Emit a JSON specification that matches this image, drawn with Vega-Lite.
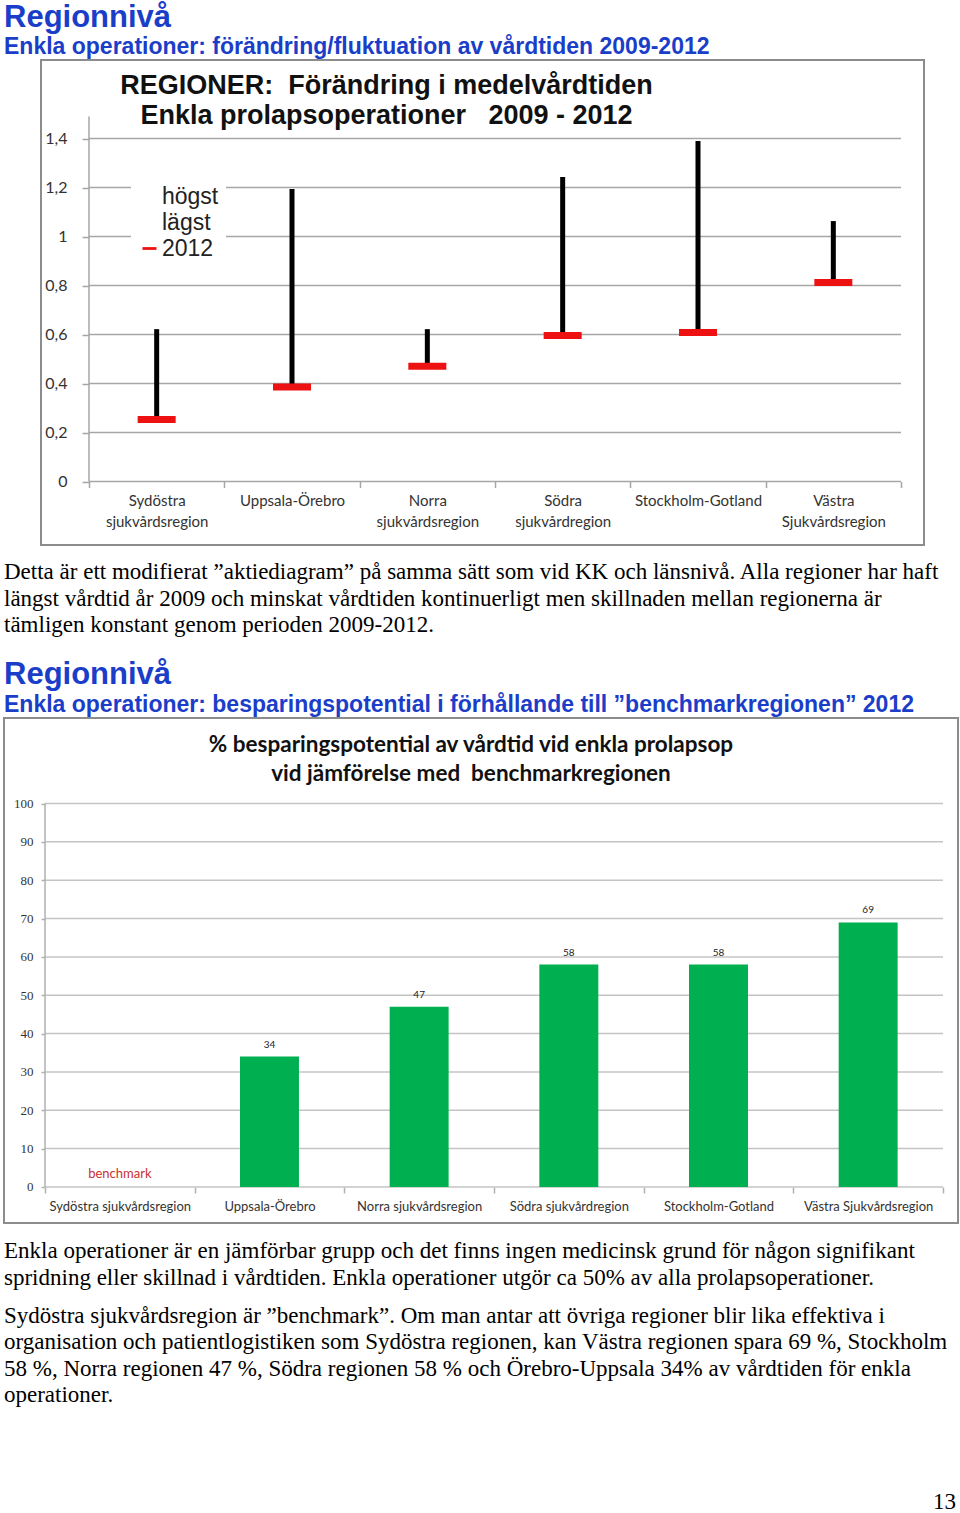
{
  "$schema": "https://vega.github.io/schema/vega-lite/v6.json",
  "background": "white",
  "padding": {"left": 3, "top": 0, "right": 3, "bottom": 0},
  "spacing": 0,
  "config": {
    "view": {"stroke": null},
    "title": {"offset": 0}
  },
  "datasets": {
    "regioner": [
      {"region": "Sydöstra sjukvårdsregion", "hogst": 0.622, "lagst": 0.253, "v2012": 0.253},
      {"region": "Uppsala-Örebro", "hogst": 1.194, "lagst": 0.386, "v2012": 0.386},
      {"region": "Norra sjukvårdsregion", "hogst": 0.622, "lagst": 0.471, "v2012": 0.471},
      {"region": "Södra sjukvårdregion", "hogst": 1.243, "lagst": 0.596, "v2012": 0.596},
      {"region": "Stockholm-Gotland", "hogst": 1.39, "lagst": 0.608, "v2012": 0.608},
      {"region": "Västra Sjukvårdsregion", "hogst": 1.063, "lagst": 0.812, "v2012": 0.812}
    ],
    "besparing": [
      {"region": "Sydöstra sjukvårdsregion", "procent": 0, "notering": "benchmark"},
      {"region": "Uppsala-Örebro", "procent": 34, "notering": ""},
      {"region": "Norra sjukvårdsregion", "procent": 47, "notering": ""},
      {"region": "Södra sjukvårdregion", "procent": 58, "notering": ""},
      {"region": "Stockholm-Gotland", "procent": 58, "notering": ""},
      {"region": "Västra Sjukvårdsregion", "procent": 69, "notering": ""}
    ],
    "grid1": [{"v": 0}, {"v": 0.2}, {"v": 0.4}, {"v": 0.6}, {"v": 0.8}, {"v": 1}, {"v": 1.2}, {"v": 1.4}],
    "grid2": [{"v": 0}, {"v": 10}, {"v": 20}, {"v": 30}, {"v": 40}, {"v": 50}, {"v": 60}, {"v": 70}, {"v": 80}, {"v": 90}, {"v": 100}]
  },
  "vconcat": [
    {
      "width": 954,
      "height": 4,
      "data": {"values": [{}]},
      "mark": "text",
      "encoding": {"text": {"value": ""}},
      "title": {
        "text": "Regionnivå",
        "subtitle": "Enkla operationer: förändring/fluktuation av vårdtiden 2009-2012",
        "orient": "bottom",
        "anchor": "start",
        "frame": "group",
        "dy": -12,
        "font": "Liberation Sans",
        "fontSize": 31,
        "fontWeight": "bold",
        "color": "#1b3ec9",
        "subtitleFont": "Liberation Sans",
        "subtitleFontSize": 23,
        "subtitleFontWeight": "bold",
        "subtitleColor": "#1b3ec9",
        "subtitlePadding": 2
      }
    },
    {
      "spacing": 0,
      "hconcat": [
        {
          "width": 36,
          "height": 485,
          "data": {"values": [{}]},
          "mark": "text",
          "encoding": {"text": {"value": ""}}
        },
        {
          "width": 883,
          "height": 485,
          "view": {"stroke": "#8c8c8c", "strokeWidth": 2},
          "title": {
            "text": ["REGIONER:\u00a0 Förändring i medelvårdtiden", "Enkla prolapsoperationer\u00a0\u00a0 2009 - 2012"],
            "anchor": "middle",
            "frame": "group",
            "dx": -96,
            "offset": -70,
            "font": "Liberation Sans",
            "fontSize": 27,
            "fontWeight": "bold",
            "lineHeight": 30,
            "color": "#111111"
          },
          "layer": [
            {
              "layer": [
                {
                  "data": {"name": "grid1"},
                  "mark": {"type": "rule", "color": "#a6a6a6", "strokeWidth": 1.5},
                  "encoding": {
                    "y": {"field": "v", "type": "quantitative"},
                    "x": {"datum": 0, "type": "quantitative", "scale": {"domain": [-0.3547, 6.17], "nice": false, "zero": false}, "axis": null},
                    "x2": {"datum": 6}
                  }
                },
                {
                  "data": {"values": [{}]},
                  "mark": {"type": "rule", "color": "#a6a6a6", "strokeWidth": 1.5},
                  "encoding": {
                    "x": {"datum": 0, "type": "quantitative"},
                    "y": {"datum": 0, "type": "quantitative"},
                    "y2": {"datum": 1.49}
                  }
                }
              ]
            },
            {
              "data": {"name": "regioner"},
              "layer": [
                {
                  "mark": {"type": "rule", "color": "#000000", "strokeWidth": 5},
                  "encoding": {
                    "x": {
                      "field": "region",
                      "type": "nominal",
                      "sort": null,
                      "scale": {"type": "band", "paddingInner": 0, "paddingOuter": 0.2624, "align": 0.676},
                      "axis": {
                        "orient": "bottom",
                        "offset": -63.5,
                        "title": null,
                        "domain": false,
                        "tickBand": "extent",
                        "tickSize": 6,
                        "tickColor": "#a6a6a6",
                        "tickWidth": 1.5,
                        "labelAngle": 0,
                        "labelExpr": "split(datum.label, ' ')",
                        "labelFont": "Lato",
                        "labelFontSize": 15,
                        "labelColor": "#333333",
                        "labelLineHeight": 21,
                        "labelPadding": 6
                      }
                    },
                    "y": {
                      "field": "lagst",
                      "type": "quantitative",
                      "scale": {"domain": [-0.259, 1.7204], "nice": false, "zero": false},
                      "axis": {
                        "orient": "left",
                        "offset": -48,
                        "title": null,
                        "domain": false,
                        "grid": false,
                        "values": [0, 0.2, 0.4, 0.6, 0.8, 1, 1.2, 1.4],
                        "labelExpr": "replace(format(datum.value, '~g'), '.', ',')",
                        "tickSize": 7,
                        "tickColor": "#a6a6a6",
                        "tickWidth": 1.5,
                        "labelFont": "Lato",
                        "labelFontSize": 16,
                        "labelColor": "#333333",
                        "labelPadding": 15
                      }
                    },
                    "y2": {"field": "hogst"}
                  }
                },
                {
                  "mark": {"type": "tick", "thickness": 7, "size": 38, "opacity": 1},
                  "encoding": {
                    "x": {"field": "region", "type": "nominal", "sort": null},
                    "y": {"field": "v2012", "type": "quantitative"},
                    "color": {
                      "datum": "2012",
                      "type": "nominal",
                      "scale": {"domain": ["högst", "lägst", "2012"], "range": ["rgba(0,0,0,0)", "rgba(0,0,0,0)", "#ee1111"]},
                      "legend": {
                        "orient": "none",
                        "legendX": 127,
                        "legendY": 174,
                        "title": null,
                        "symbolType": "M-1,-0.2H1V0.2H-1Z",
                        "symbolSize": 196,
                        "symbolStrokeWidth": 0,
                        "symbolOpacity": 1,
                        "labelFont": "Liberation Sans",
                        "labelFontSize": 23,
                        "labelColor": "#222222",
                        "labelOffset": 1,
                        "rowPadding": 2,
                        "fillColor": "white",
                        "padding": 7
                      }
                    }
                  }
                }
              ]
            }
          ],
          "resolve": {"scale": {"x": "independent"}}
        }
      ]
    },
    {
      "width": 954,
      "height": 10,
      "data": {"values": [{}]},
      "mark": "text",
      "encoding": {"text": {"value": ""}},
      "title": {
        "text": [
          "Detta är ett modifierat ”aktiediagram” på samma sätt som vid KK och länsnivå. Alla regioner har haft",
          "längst vårdtid år 2009 och minskat vårdtiden kontinuerligt men skillnaden mellan regionerna är",
          "tämligen konstant genom perioden 2009-2012."
        ],
        "orient": "bottom",
        "anchor": "start",
        "frame": "group",
        "font": "Liberation Serif",
        "fontSize": 23,
        "fontWeight": "normal",
        "lineHeight": 26.5,
        "color": "#000000"
      }
    },
    {
      "width": 954,
      "height": 19,
      "data": {"values": [{}]},
      "mark": "text",
      "encoding": {"text": {"value": ""}},
      "title": {
        "text": "Regionnivå",
        "subtitle": "Enkla operationer: besparingspotential i förhållande till ”benchmarkregionen” 2012",
        "orient": "bottom",
        "anchor": "start",
        "frame": "group",
        "font": "Liberation Sans",
        "fontSize": 31,
        "fontWeight": "bold",
        "color": "#1b3ec9",
        "subtitleFont": "Liberation Sans",
        "subtitleFontSize": 23,
        "subtitleFontWeight": "bold",
        "subtitleColor": "#1b3ec9",
        "subtitlePadding": 3
      }
    },
    {
      "width": 954,
      "height": 505,
      "view": {"stroke": "#8c8c8c", "strokeWidth": 2},
      "title": {
        "text": ["% besparingspotential av vårdtid vid enkla prolapsop", "vid jämförelse med\u00a0 benchmarkregionen"],
        "anchor": "middle",
        "frame": "group",
        "dx": -10,
        "offset": -67,
        "font": "Lato",
        "fontSize": 22.5,
        "fontWeight": "bold",
        "lineHeight": 29,
        "color": "#111111"
      },
      "layer": [
        {
          "layer": [
            {
              "data": {"name": "grid2"},
              "mark": {"type": "rule", "color": "#c4c4c4", "strokeWidth": 1.5},
              "encoding": {
                "y": {"field": "v", "type": "quantitative"},
                "x": {"datum": 0, "type": "quantitative", "scale": {"domain": [-0.274, 6.1], "nice": false, "zero": false}, "axis": null},
                "x2": {"datum": 6}
              }
            },
            {
              "data": {"values": [{}]},
              "mark": {"type": "rule", "color": "#b0b0b0", "strokeWidth": 1.5},
              "encoding": {
                "x": {"datum": 0, "type": "quantitative"},
                "y": {"datum": 0, "type": "quantitative"},
                "y2": {"datum": 100}
              }
            }
          ]
        },
        {
          "data": {"name": "besparing"},
          "layer": [
            {
              "mark": {"type": "bar", "color": "#00b050", "width": {"band": 0.394}},
              "encoding": {
                "x": {
                  "field": "region",
                  "type": "nominal",
                  "sort": null,
                  "scale": {"type": "band", "paddingInner": 0, "paddingOuter": 0.187, "align": 0.732},
                  "axis": {
                    "orient": "bottom",
                    "offset": -36,
                    "title": null,
                    "domain": false,
                    "tickBand": "extent",
                    "tickSize": 6,
                    "tickColor": "#b0b0b0",
                    "tickWidth": 1.5,
                    "labelAngle": 0,
                    "labelFont": "Lato",
                    "labelFontSize": 13,
                    "labelColor": "#333333",
                    "labelPadding": 7
                  }
                },
                "y": {
                  "field": "procent",
                  "type": "quantitative",
                  "scale": {"domain": [-9.4, 122.3], "nice": false, "zero": false},
                  "axis": {
                    "orient": "left",
                    "offset": -41,
                    "title": null,
                    "domain": false,
                    "grid": false,
                    "values": [0, 10, 20, 30, 40, 50, 60, 70, 80, 90, 100],
                    "tickSize": 4,
                    "tickColor": "#b0b0b0",
                    "tickWidth": 1.5,
                    "labelFont": "Liberation Serif",
                    "labelFontSize": 13,
                    "labelColor": "#333333",
                    "labelPadding": 8
                  }
                },
                "y2": {"datum": 0}
              }
            },
            {
              "transform": [{"filter": "datum.procent > 0"}],
              "mark": {"type": "text", "dy": -12, "font": "Lato", "fontSize": 10, "color": "#222222"},
              "encoding": {
                "x": {"field": "region", "type": "nominal", "sort": null},
                "y": {"field": "procent", "type": "quantitative"},
                "text": {"field": "procent", "type": "quantitative"}
              }
            },
            {
              "transform": [{"filter": "datum.notering != ''"}],
              "mark": {"type": "text", "dy": -13, "font": "Lato", "fontSize": 13, "color": "#c8312f"},
              "encoding": {
                "x": {"field": "region", "type": "nominal", "sort": null},
                "y": {"field": "procent", "type": "quantitative"},
                "text": {"field": "notering", "type": "nominal"}
              }
            }
          ]
        }
      ],
      "resolve": {"scale": {"x": "independent"}}
    },
    {
      "width": 954,
      "height": 12,
      "data": {"values": [{}]},
      "mark": "text",
      "encoding": {"text": {"value": ""}},
      "title": {
        "text": [
          "Enkla operationer är en jämförbar grupp och det finns ingen medicinsk grund för någon signifikant",
          "spridning eller skillnad i vårdtiden. Enkla operationer utgör ca 50% av alla prolapsoperationer."
        ],
        "subtitle": [
          "Sydöstra sjukvårdsregion är ”benchmark”. Om man antar att övriga regioner blir lika effektiva i",
          "organisation och patientlogistiken som Sydöstra regionen, kan Västra regionen spara 69 %, Stockholm",
          "58 %, Norra regionen 47 %, Södra regionen 58 % och Örebro-Uppsala 34% av vårdtiden för enkla",
          "operationer."
        ],
        "orient": "bottom",
        "anchor": "start",
        "frame": "group",
        "font": "Liberation Serif",
        "fontSize": 23,
        "fontWeight": "normal",
        "lineHeight": 26.5,
        "color": "#000000",
        "subtitleFont": "Liberation Serif",
        "subtitleFontSize": 23,
        "subtitleFontWeight": "normal",
        "subtitleLineHeight": 26.5,
        "subtitleColor": "#000000",
        "subtitlePadding": 15
      }
    },
    {
      "width": 954,
      "height": 80,
      "data": {"values": [{}]},
      "mark": "text",
      "encoding": {"text": {"value": ""}},
      "title": {
        "text": "13",
        "orient": "bottom",
        "anchor": "end",
        "frame": "group",
        "dx": -2,
        "font": "Liberation Serif",
        "fontSize": 23,
        "fontWeight": "normal",
        "color": "#000000"
      }
    }
  ]
}
